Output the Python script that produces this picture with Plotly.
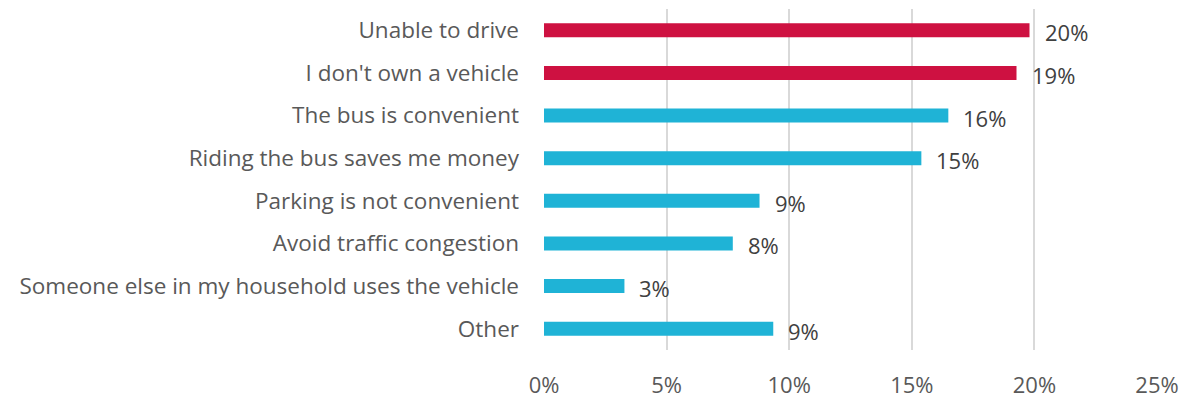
import plotly.graph_objects as go

categories = ["Unable to drive", "I don't own a vehicle", "The bus is convenient",
              "Riding the bus saves me money", "Parking is not convenient",
              "Avoid traffic congestion", "Someone else in my household uses the vehicle", "Other"]
values = [19.8, 19.27, 16.49, 15.39, 8.79, 7.70, 3.28, 9.35]
labels = ["20%", "19%", "16%", "15%", "9%", "8%", "3%", "9%"]
colors = ["#CE1141", "#CE1141"] + ["#1FB3D6"] * 6
tick_vals = [0, 5, 10, 15, 20, 25]
tick_text = ["0%", "5%", "10%", "15%", "20%", "25%"]

FONT = "Open Sans, Noto Sans, sans-serif"

fig = go.Figure(go.Bar(
    y=categories, x=values, orientation="h",
    marker=dict(color=colors, line=dict(width=0)),
    hoverinfo="skip",
))
fig.update_layout(bargap=0.67)
for c, v, t in zip(categories, values, labels):
    fig.add_annotation(x=v, y=c, text=t, showarrow=False, xanchor="left", xshift=13, yshift=-2,
                       font=dict(family=FONT, size=22, color="#404040"))

# body has an 8px margin, so the figure is offset by 8px
fig.update_layout(
    width=1191, height=392,
    margin=dict(l=536, r=42, t=1, b=45),
    plot_bgcolor="white", paper_bgcolor="white",
    showlegend=False,
    font=dict(family=FONT, size=22.5, color="#595959"),
    xaxis=dict(range=[0, 25], tickvals=tick_vals, ticktext=tick_text,
               showgrid=True, gridcolor="#D9D9D9", gridwidth=1.5, zeroline=False,
               showline=False, ticks="", tickfont=dict(size=22, color="#595959"), ticklabelstandoff=20),
    yaxis=dict(autorange="reversed", showgrid=False, zeroline=False, showline=False, ticks="",
               ticklabelstandoff=24, tickfont=dict(size=22.5, color="#595959")),
)
fig.write_html("out.html")
